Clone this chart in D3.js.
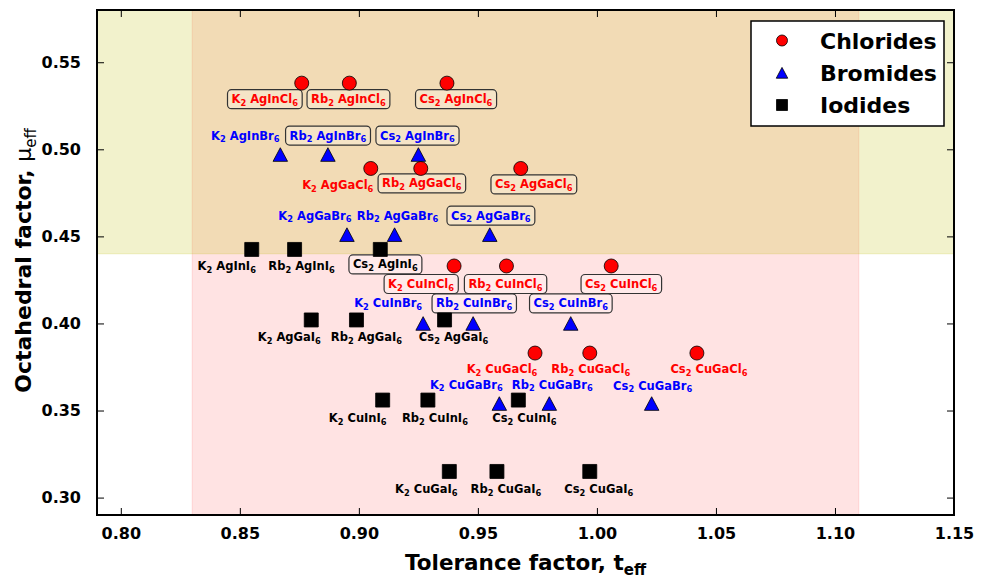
<!DOCTYPE html>
<html>
<head>
<meta charset="utf-8">
<script src="https://cdn.jsdelivr.net/npm/d3@7/dist/d3.min.js"></script>
<style>
  html, body { margin: 0; padding: 0; background: #ffffff; }
  svg { display: block; font-family: "DejaVu Sans", sans-serif; }
</style>
</head>
<body>
<svg id="chart" width="981" height="581"></svg>
<script>
// ---- data: tolerance factor (t_eff) and octahedral factor (mu_eff) ----
const chlorideNames = ["K2 AgInCl6", "Rb2 AgInCl6", "Cs2 AgInCl6",
                       "K2 AgGaCl6", "Rb2 AgGaCl6", "Cs2 AgGaCl6",
                       "K2 CuInCl6", "Rb2 CuInCl6", "Cs2 CuInCl6",
                       "K2 CuGaCl6", "Rb2 CuGaCl6", "Cs2 CuGaCl6"];
const chlorideT  = [0.876, 0.896, 0.937, 0.905, 0.926, 0.968, 0.940, 0.962, 1.006, 0.974, 0.997, 1.042];
const chlorideMu = [0.538, 0.538, 0.538, 0.489, 0.489, 0.489, 0.433, 0.433, 0.433, 0.383, 0.383, 0.383];

const bromideNames = ["K2 AgInBr6", "Rb2 AgInBr6", "Cs2 AgInBr6",
                      "K2 AgGaBr6", "Rb2 AgGaBr6", "Cs2 AgGaBr6",
                      "K2 CuInBr6", "Rb2 CuInBr6", "Cs2 CuInBr6",
                      "K2 CuGaBr6", "Rb2 CuGaBr6", "Cs2 CuGaBr6"];
const bromideT  = [0.867, 0.887, 0.925, 0.895, 0.915, 0.955, 0.927, 0.948, 0.989, 0.959, 0.980, 1.023];
const bromideMu = [0.497, 0.497, 0.497, 0.451, 0.451, 0.451, 0.400, 0.400, 0.400, 0.354, 0.354, 0.354];

const iodideNames = ["K2 AgInI6", "Rb2 AgInI6", "Cs2 AgInI6",
                     "K2 AgGaI6", "Rb2 AgGaI6", "Cs2 AgGaI6",
                     "K2 CuInI6", "Rb2 CuInI6", "Cs2 CuInI6",
                     "K2 CuGaI6", "Rb2 CuGaI6", "Cs2 CuGaI6"];
const iodideT  = [0.855, 0.873, 0.909, 0.880, 0.899, 0.936, 0.910, 0.929, 0.967, 0.938, 0.958, 0.997];
const iodideMu = [0.4425, 0.4425, 0.4425, 0.402, 0.402, 0.402, 0.356, 0.356, 0.356, 0.315, 0.315, 0.315];

// stability windows
const toleranceWindow = [0.83, 1.11];
const octahedralMin = 0.44;

const xTicks = [0.80, 0.85, 0.90, 0.95, 1.00, 1.05, 1.10, 1.15];
const yTicks = [0.30, 0.35, 0.40, 0.45, 0.50, 0.55];
const legendLabels = ["Chlorides", "Bromides", "Iodides"];

// ---- label placement (pixel offset from the marker, framed or plain) ----
const chlorideLabelPos = [[-37, 16, 1], [-1, 16, 1], [9, 16, 1],
                          [-33, 17, 0], [1, 15, 1], [13, 16, 1],
                          [-33, 18, 1], [-1, 18, 1], [10, 18, 1],
                          [-33, 16, 0], [1, 16, 0], [12, 16, 0]];
const bromideLabelPos  = [[-35, -19, 0], [0, -19, 1], [-1, -19, 1],
                          [-32, -19, 0], [3, -19, 0], [1, -19, 1],
                          [-35, -20, 0], [1, -20, 1], [0, -20, 1],
                          [-33, -19, 0], [3, -19, 0], [1, -18, 0]];
const iodideLabelPos   = [[-25, 17, 0], [7, 17, 0], [5, 15, 1],
                          [-22, 17, 0], [10, 17, 0], [9, 17, 0],
                          [-25, 18, 0], [7, 18, 0], [6, 18, 0],
                          [-23, 18, 0], [9, 18, 0], [9, 18, 0]];

// ---- layout ----
const margin = { left: 97, top: 10, right: 27, bottom: 66 };
const W = 981, H = 581;
const plotW = W - margin.left - margin.right;
const plotH = H - margin.top - margin.bottom;

const svg = d3.select("#chart");
const x = d3.scaleLinear().domain([0.79, 1.15]).range([margin.left, margin.left + plotW]);
const y = d3.scaleLinear().domain([0.29, 0.58]).range([margin.top + plotH, margin.top]);

svg.append("defs").append("clipPath").attr("id", "plotClip")
  .append("rect").attr("x", margin.left).attr("y", margin.top)
  .attr("width", plotW).attr("height", plotH);

const bg = svg.append("g").attr("clip-path", "url(#plotClip)");

// tolerance window
bg.append("rect")
  .attr("x", x(toleranceWindow[0])).attr("width", x(toleranceWindow[1]) - x(toleranceWindow[0]))
  .attr("y", margin.top - 2).attr("height", plotH + 4)
  .attr("fill", "red").attr("fill-opacity", 0.11)
  .attr("stroke", "red").attr("stroke-opacity", 0.1).attr("stroke-width", 1.2);

// octahedral window (mu above the limit)
bg.append("rect")
  .attr("x", margin.left - 2).attr("width", plotW + 4)
  .attr("y", y(0.58) - 2).attr("height", y(octahedralMin) - y(0.58) + 2)
  .attr("fill", "rgb(191,191,0)").attr("fill-opacity", 0.2)
  .attr("stroke", "rgb(191,191,0)").attr("stroke-opacity", 0.2).attr("stroke-width", 1);

// ---- chemical formula labels with subscripts ----
const labelLayer = svg.append("g");
const markerLayer = svg.append("g");
const labelSize = 11.5;

function drawLabels(names, tv, mv, pos, color) {
  names.forEach((name, i) => {
    const cx = x(tv[i]) + pos[i][0];
    const cy = y(mv[i]) + pos[i][1];
    const g = labelLayer.append("g");
    const t = g.append("text")
      .attr("x", cx).attr("y", cy + 4)
      .attr("text-anchor", "middle")
      .attr("font-weight", "bold")
      .attr("fill", color);
    const parts = name.match(/[A-Za-z ]+|\d+/g);
    let sub = false;
    parts.forEach(p => {
      const isSub = /^\d+$/.test(p);
      const ts = t.append("tspan").text(p);
      if (isSub) {
        ts.attr("font-size", labelSize * 0.72).attr("dy", sub ? 0 : 2.8);
        sub = true;
      } else {
        ts.attr("font-size", labelSize).attr("dy", sub ? -2.8 : 0);
        sub = false;
      }
    });
    if (pos[i][2]) {
      const bb = t.node().getBBox();
      g.insert("rect", "text")
        .attr("x", bb.x - 4).attr("y", cy - 9.5)
        .attr("width", bb.width + 8).attr("height", 19)
        .attr("rx", 4).attr("ry", 4)
        .attr("fill", "white").attr("fill-opacity", 0.25)
        .attr("stroke", "#333").attr("stroke-width", 1.2);
    }
  });
}

drawLabels(chlorideNames, chlorideT, chlorideMu, chlorideLabelPos, "#ff0000");
drawLabels(bromideNames, bromideT, bromideMu, bromideLabelPos, "#0000ff");
drawLabels(iodideNames, iodideT, iodideMu, iodideLabelPos, "#000000");

// ---- markers ----
const circlePath = d3.symbol().type(d3.symbolCircle).size(Math.PI * 7 * 7);
const squarePath = d3.symbol().type(d3.symbolSquare).size(14 * 14);
const trianglePath = (s) => `M0,${-s * 0.47}L${s * 0.5},${s * 0.47}L${-s * 0.5},${s * 0.47}Z`;

function drawMarkers(tv, mv, pathD, fill) {
  markerLayer.selectAll(null).data(tv.map((t, i) => [t, mv[i]])).enter()
    .append("path")
    .attr("d", pathD)
    .attr("transform", d => `translate(${x(d[0])},${y(d[1])})`)
    .attr("fill", fill).attr("stroke", "#000").attr("stroke-width", 0.8);
}
drawMarkers(chlorideT, chlorideMu, circlePath(), "#ff0000");
drawMarkers(bromideT, bromideMu, trianglePath(14.5), "#0000ff");
drawMarkers(iodideT, iodideMu, squarePath(), "#000000");

// ---- axes (ticks inward on all four sides) ----
const tickLen = 7;
const axisG = svg.append("g");
const fmt = d3.format(".2f");

const axB = d3.axisBottom(x).tickValues(xTicks).tickSize(-tickLen).tickPadding(tickLen + 6).tickFormat(fmt);
const axT = d3.axisTop(x).tickValues(xTicks).tickSize(-tickLen).tickFormat("");
const axL = d3.axisLeft(y).tickValues(yTicks).tickSize(-tickLen).tickPadding(tickLen + 9).tickFormat(fmt);
const axR = d3.axisRight(y).tickValues(yTicks).tickSize(-tickLen).tickFormat("");

function styleAxis(g) {
  g.select(".domain").remove();
  g.selectAll(".tick line").attr("stroke", "#000").attr("stroke-width", 1);
  g.selectAll(".tick text")
    .attr("font-family", "DejaVu Sans, sans-serif")
    .attr("font-size", 16).attr("font-weight", "bold").attr("fill", "#000");
}
axisG.append("g").attr("transform", `translate(0,${margin.top + plotH})`).call(axB).call(styleAxis);
axisG.append("g").attr("transform", `translate(0,${margin.top})`).call(axT).call(styleAxis);
axisG.append("g").attr("transform", `translate(${margin.left},0)`).call(axL).call(styleAxis);
axisG.append("g").attr("transform", `translate(${margin.left + plotW},0)`).call(axR).call(styleAxis);

// frame
svg.append("rect")
  .attr("x", margin.left).attr("y", margin.top)
  .attr("width", plotW).attr("height", plotH)
  .attr("fill", "none").attr("stroke", "#000").attr("stroke-width", 2);

// ---- axis titles ----
const xTitle = svg.append("text")
  .attr("x", margin.left + plotW / 2).attr("y", 570)
  .attr("text-anchor", "middle").attr("font-weight", "bold").attr("font-size", 21.5);
xTitle.append("tspan").text("Tolerance factor, t");
xTitle.append("tspan").attr("font-size", 15).attr("dy", 5).text("eff");

const yTitle = svg.append("text")
  .attr("transform", `translate(31,${margin.top + plotH / 2 - 2}) rotate(-90)`)
  .attr("text-anchor", "middle").attr("font-weight", "bold").attr("font-size", 22);
yTitle.append("tspan").text("Octahedral factor, ");
yTitle.append("tspan").attr("font-weight", "normal").text("\u03bc");
yTitle.append("tspan").attr("font-size", 15).attr("font-weight", "normal").attr("dy", 5).text("eff");

// ---- legend ----
const lg = svg.append("g");
lg.append("rect").attr("x", 751).attr("y", 21).attr("width", 193).attr("height", 105)
  .attr("fill", "#fff").attr("stroke", "#000").attr("stroke-width", 1.5);
const legendRows = [40.5, 72.8, 105];
const legendShapes = [
  d3.symbol().type(d3.symbolCircle).size(Math.PI * 5.5 * 5.5)(),
  trianglePath(11.5),
  d3.symbol().type(d3.symbolSquare).size(11 * 11)()
];
const legendFills = ["#ff0000", "#0000ff", "#000000"];
legendLabels.forEach((lab, i) => {
  lg.append("path").attr("d", legendShapes[i])
    .attr("transform", `translate(782,${legendRows[i]})`)
    .attr("fill", legendFills[i]).attr("stroke", "#000").attr("stroke-width", 0.8);
  lg.append("text").attr("x", 820).attr("y", legendRows[i] + 8)
    .attr("font-size", 22).attr("font-weight", "bold").text(lab);
});
</script>
</body>
</html>
